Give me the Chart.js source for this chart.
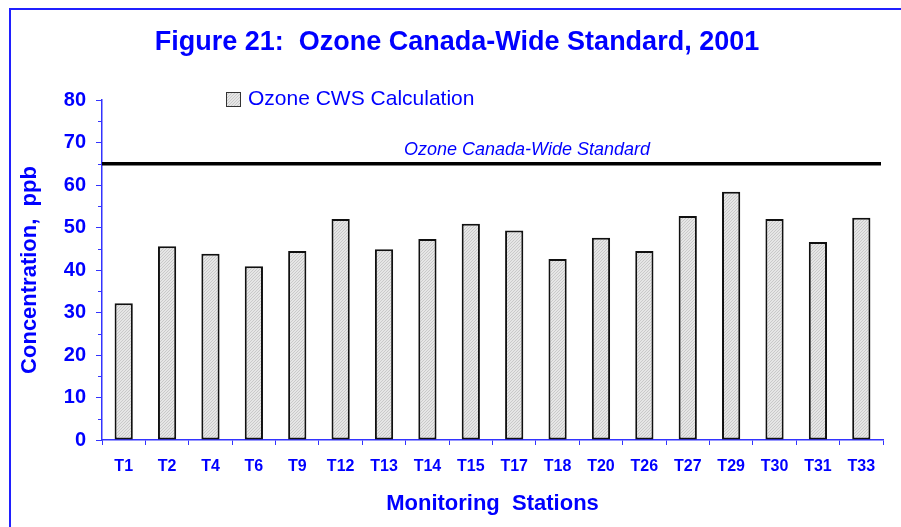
<!DOCTYPE html>
<html>
<head>
<meta charset="utf-8">
<script src="https://cdn.jsdelivr.net/npm/chart.js@4.4.1/dist/chart.umd.min.js"></script>
<style>
  body { margin: 0; background: #fff; }
  canvas { display: block; }
</style>
</head>
<body>
<canvas id="ozoneChart" width="901" height="527"></canvas>
<script>
// data
var stations = ['T1', 'T2', 'T4', 'T6', 'T9', 'T12', 'T13', 'T14', 'T15',
                'T17', 'T18', 'T20', 'T26', 'T27', 'T29', 'T30', 'T31', 'T33'];
var cwsValues = [32.2, 45.6, 43.8, 40.9, 44.5, 52.0, 44.9, 47.3, 50.9,
                 49.3, 42.6, 47.6, 44.5, 52.7, 58.4, 52.0, 46.6, 52.3];
var standardValue = 65;
var yTicks = [0, 10, 20, 30, 40, 50, 60, 70, 80];

var BLUE = '#0000ff';
var AXIS = '#3333ff';
var FONT = "'Liberation Sans', Arial, sans-serif";

// light grey dotted fill like the original bars
function makePattern() {
  var c = document.createElement('canvas');
  c.width = 3; c.height = 3;
  var g = c.getContext('2d');
  g.fillStyle = '#e6e6e6';
  g.fillRect(0, 0, 3, 3);
  g.fillStyle = '#c9c9c9';
  g.fillRect(0, 0, 1, 1);
  g.fillRect(2, 1, 1, 1);
  g.fillRect(1, 2, 1, 1);
  return g.createPattern(c, 'repeat');
}
var barFill = makePattern();

var decorations = {
  id: 'decorations',
  beforeDraw: function(chart) {
    var ctx = chart.ctx;
    ctx.save();
    // outer frame (only left and top edges visible)
    ctx.strokeStyle = '#2020ff';
    ctx.lineWidth = 2;
    ctx.beginPath();
    ctx.moveTo(10, 527);
    ctx.lineTo(10, 9);
    ctx.lineTo(901, 9);
    ctx.stroke();
    ctx.restore();
  },
  afterDraw: function(chart) {
    var ctx = chart.ctx;
    var area = chart.chartArea;
    var y = chart.scales.y;
    ctx.save();

    // minor ticks on y axis
    ctx.strokeStyle = AXIS;
    ctx.lineWidth = 1;
    for (var v = 5; v < 80; v += 10) {
      var py = Math.round(y.getPixelForValue(v)) + 0.5;
      ctx.beginPath();
      ctx.moveTo(area.left - 4, py);
      ctx.lineTo(area.left, py);
      ctx.stroke();
    }

    // standard line
    var sy = y.getPixelForValue(standardValue);
    ctx.strokeStyle = '#000';
    ctx.lineWidth = 3.5;
    ctx.beginPath();
    ctx.moveTo(area.left, sy);
    ctx.lineTo(area.right - 2, sy);
    ctx.stroke();

    ctx.fillStyle = BLUE;
    ctx.textAlign = 'center';
    ctx.textBaseline = 'middle';
    ctx.font = 'italic 18px ' + FONT;
    ctx.fillText('Ozone Canada-Wide Standard', 527, sy - 14);

    // title
    ctx.font = 'bold 27px ' + FONT;
    ctx.fillText('Figure 21:  Ozone Canada-Wide Standard, 2001', 457, 43);

    // legend
    ctx.fillStyle = barFill;
    ctx.fillRect(226.5, 92.5, 14, 14);
    ctx.strokeStyle = '#333';
    ctx.lineWidth = 1;
    ctx.strokeRect(226.5, 92.5, 14, 14);
    ctx.fillStyle = BLUE;
    ctx.textAlign = 'left';
    ctx.font = '21px ' + FONT;
    ctx.fillText('Ozone CWS Calculation', 248, 99);

    ctx.restore();
  }
};

var ctx = document.getElementById('ozoneChart');
new Chart(ctx, {
  type: 'bar',
  data: {
    labels: stations,
    datasets: [{
      label: 'Ozone CWS Calculation',
      data: cwsValues,
      backgroundColor: barFill,
      borderColor: '#111',
      borderWidth: 2,
      borderSkipped: false,
      barPercentage: 0.42,
      categoryPercentage: 1.0
    }]
  },
  options: {
    responsive: false,
    animation: false,
    layout: {
      padding: { top: 100, right: 18, left: 0, bottom: 0 }
    },
    plugins: {
      legend: { display: false },
      title: { display: false },
      tooltip: { enabled: false }
    },
    scales: {
      x: {
        grid: {
          offset: true,
          drawOnChartArea: false,
          drawTicks: true,
          tickLength: 5,
          color: AXIS
        },
        border: { color: AXIS, width: 1.5 },
        ticks: {
          color: BLUE,
          font: { family: FONT, size: 16, weight: 'bold' },
          padding: 12,
          maxRotation: 0,
          autoSkip: false
        },
        title: {
          display: true,
          text: 'Monitoring  Stations',
          color: BLUE,
          font: { family: FONT, size: 22, weight: 'bold' },
          padding: { top: 0, bottom: 10 }
        },
        afterFit: function(scale) { scale.height = 87; }
      },
      y: {
        min: 0,
        max: 80,
        afterBuildTicks: function(scale) {
          scale.ticks = yTicks.map(function(v) { return { value: v }; });
        },
        grid: {
          drawOnChartArea: false,
          drawTicks: true,
          tickLength: 6,
          color: AXIS
        },
        border: { color: AXIS, width: 1.5 },
        ticks: {
          color: BLUE,
          font: { family: FONT, size: 20, weight: 'bold' },
          padding: 10
        },
        title: {
          display: true,
          text: 'Concentration,  ppb',
          color: BLUE,
          font: { family: FONT, size: 22, weight: 'bold' },
          padding: { top: 17, bottom: 0 }
        },
        afterFit: function(scale) { scale.width = 102; }
      }
    }
  },
  plugins: [decorations]
});
</script>
</body>
</html>
